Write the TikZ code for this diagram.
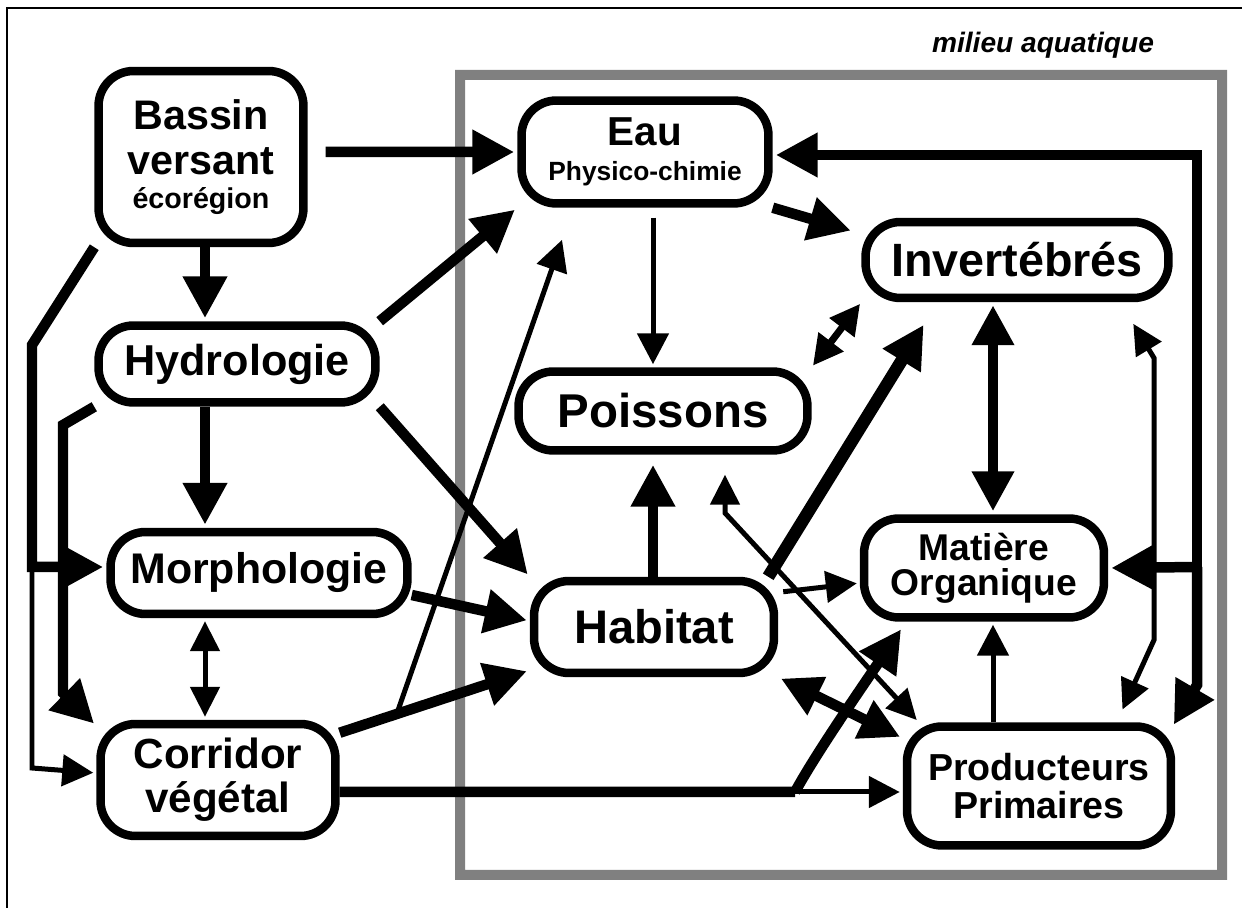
\documentclass[tikz,border=0pt]{standalone}
\usepackage{fontspec}
\setmainfont{Liberation Sans}
\usepackage{tikz}
\usetikzlibrary{arrows.meta, positioning, calc}
\tikzstyle{bloc} = [draw, line width=0.17cm, rounded corners=0.7cm, align=center, inner sep=0pt, font=\bfseries]
\tikzstyle{thickline} = [line width=0.21cm]
\tikzstyle{arrow} = [line width=0.21cm, -{Triangle[length=0.84cm, width=0.84cm]}, shorten >=0.06cm]
\tikzstyle{dblarrow} = [line width=0.21cm, {Triangle[length=0.8cm, width=0.8cm]}-{Triangle[length=0.8cm, width=0.8cm]}, shorten >=0.06cm, shorten <=0.06cm]
\tikzstyle{middbl} = [line width=0.14cm, {Triangle[length=0.6cm, width=0.6cm]}-{Triangle[length=0.6cm, width=0.6cm]}]
\tikzstyle{thinarrow} = [line width=0.1cm, -{Triangle[length=0.62cm, width=0.62cm]}, shorten >=0.06cm]
\tikzstyle{thindbl} = [line width=0.1cm, {Triangle[length=0.6cm, width=0.58cm]}-{Triangle[length=0.6cm, width=0.58cm]}, shorten >=0.06cm, shorten <=0.06cm]

\begin{document}
\begin{tikzpicture}[x=0.02cm, y=-0.02cm]

    \useasboundingbox (0,0) rectangle (1242,908);
    \draw[line width=0.04cm] (7,908) -- (7,8) -- (1242,8);

    % milieu aquatique
    \fill[black!50, even odd rule] (455,70) rectangle (1227,880) (465,80) rectangle (1217,870);
    \node[font=\bfseries\itshape\fontsize{16}{18}\selectfont] (milieu) at (1043,45) {milieu aquatique};

    \node[bloc, minimum width=4.1cm, minimum height=3.44cm, font=\bfseries\fontsize{23.5}{25.5}\selectfont] (bassin) at (201,157)
        {Bassin\\versant\\[-6pt]{\fontsize{16.3}{18}\selectfont écorégion}};
    \node[bloc, minimum width=5.54cm, minimum height=1.54cm, font=\bfseries\fontsize{24.6}{26}\selectfont] (hydro) at (237,364) {Hydrologie};
    \node[bloc, minimum width=5.94cm, minimum height=1.64cm, font=\bfseries\fontsize{24.4}{26}\selectfont] (morpho) at (259,573) {Morphologie};
    \node[bloc, minimum width=4.7cm, minimum height=2.24cm, font=\bfseries\fontsize{24}{25}\selectfont] (corridor) at (218,780) {Corridor\\végétal};

    \node[bloc, minimum width=4.94cm, minimum height=2.06cm, font=\bfseries\fontsize{23}{20}\selectfont] (eau) at (645,152)
        {Eau\\{\fontsize{15}{18}\selectfont Physico-chimie}};
    \node[bloc, minimum width=5.78cm, minimum height=1.58cm, font=\bfseries\fontsize{27}{28}\selectfont] (poiss) at (663,411) {Poissons};
    \node[bloc, minimum width=4.8cm, minimum height=1.84cm, font=\bfseries\fontsize{26.8}{28}\selectfont] (habitat) at (654,627) {Habitat};
    \node[bloc, minimum width=6.06cm, minimum height=1.52cm, font=\bfseries\fontsize{26.6}{28}\selectfont] (invert) at (1017,260) {Invertébrés};
    \node[bloc, minimum width=4.8cm, minimum height=1.98cm, font=\bfseries\fontsize{21.2}{20}\selectfont] (matiere) at (984,568) {Matière\\Organique};
    \node[bloc, minimum width=5.28cm, minimum height=2.38cm, font=\bfseries\fontsize{21.4}{21.5}\selectfont] (prod) at (1039,786) {Producteurs\\Primaires};

    \coordinate (colA) at (205,0);
    \coordinate (colB) at (653,0);
    \coordinate (colC) at (993,0);
    \coordinate (b1) at (32,345);
    \coordinate (b2) at (32,567);
    \coordinate (b3) at (32,768);
    \coordinate (h1) at (63,425);
    \coordinate (h2) at (63,693);
    \coordinate (k1) at (795,792);
    \coordinate (p1) at (725,513);
    \coordinate (e1) at (563,237);
    \coordinate (r0) at (1197,155);
    \coordinate (r1) at (1197,567);
    \coordinate (r2) at (1197,685);
    \coordinate (q1) at (1154,358);
    \coordinate (q2) at (1154,640);

    % bassin versant
    \draw[arrow, shorten <=0.36cm] ([yshift=0.1cm]bassin.east) -- (eau.west);
    \draw[arrow] (bassin.south -| colA) -- (hydro.north -| colA);
    \draw[arrow] (bassin.south west) -- (b1) -- (b2) -- (b2 -| morpho.west);
    \draw[thinarrow] (b2) -- (b3) -- ([yshift=0.14cm]corridor.west);

    % hydrologie
    \draw[arrow] (hydro.south west) -- (h1) -- (h2) -- ([yshift=-0.12cm]corridor.north west);
    \draw[arrow] (hydro.south -| colA) -- (morpho.north -| colA);
    \draw[arrow] (hydro.north east) -- (eau.south west);
    \draw[arrow] (hydro.south east) -- (habitat.north west);
    \draw[thindbl] (morpho.south -| colA) -- (corridor.north -| colA);

    \draw[arrow] ([yshift=-0.44cm]morpho.east) -- ([yshift=0.12cm]habitat.west);
    \draw[arrow] ([yshift=-0.26cm]corridor.north east) -- coordinate[pos=0.3] (c1) ([yshift=0.14cm]habitat.south west);
    \draw[thinarrow] (c1) -- (e1);
    \draw[thickline] ([yshift=-0.24cm]corridor.east) -- (k1);
    \draw[thinarrow] (k1) -- (k1 -| prod.west);
    \draw[arrow] (k1) .. controls (815,755) and (860,690) .. ([xshift=0.86cm, yshift=-0.1cm]matiere.south west);

    % milieu aquatique
    \draw[arrow, shorten >=0.2cm] (habitat.north -| colB) -- (poiss.south -| colB);
    \draw[thinarrow, shorten <=0.2cm] (eau.south -| colB) -- (poiss.north -| colB);
    \draw[arrow, shorten >=0.22cm] (eau.south east) -- ([yshift=-0.32cm]invert.north west);
    \draw[middbl, shorten <=0.04cm, shorten >=0.04cm] (poiss.north east) -- (invert.south west);
    \draw[arrow, line width=0.25cm] ([xshift=-0.2cm]habitat.north east) -- ([xshift=1.28cm, yshift=-0.4cm]invert.south west);
    \draw[thinarrow] ([xshift=0.1cm, yshift=-0.3cm]habitat.north east) -- ([yshift=-0.3cm]matiere.west);
    \draw[dblarrow] (habitat.south east) -- ([yshift=-0.32cm]prod.north west);
    \draw[thindbl, shorten <=0.4cm] ([xshift=1.24cm]poiss.south) -- (p1) -- ([xshift=0.32cm]prod.north west);
    \draw[dblarrow] (invert.south -| colC) -- (matiere.north -| colC);
    \draw[thinarrow] (prod.north -| colC) -- (matiere.south -| colC);

    \draw[arrow] (r1) -- (r0) -- (r0 -| eau.east);
    \draw[arrow] (r1) -- (matiere.east);
    \draw[arrow] (r1) -- (r2) -- ([xshift=-0.06cm, yshift=-0.1cm]prod.north east);
    \draw[thindbl] ([xshift=-0.82cm, yshift=-0.38cm]invert.south east) -- (q1) -- (q2) -- ([xshift=-1.08cm, yshift=0.2cm]prod.north east);

\end{tikzpicture}
\end{document}
